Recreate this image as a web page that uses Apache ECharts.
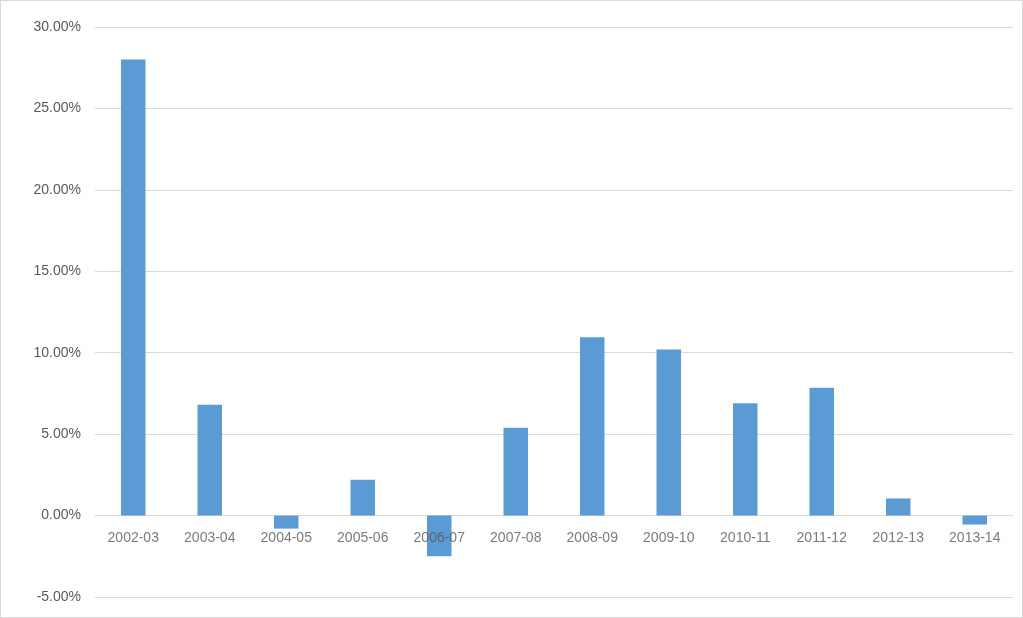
<!DOCTYPE html>
<html>
<head>
<meta charset="UTF-8">
<script src="https://cdn.jsdelivr.net/npm/echarts@6/dist/echarts.min.js"></script>
<style>html,body{margin:0;padding:0;background:#fff}</style>
</head>
<body>
<div id="main" style="width:1023px;height:618px;box-sizing:border-box;border:1px solid #d9d9d9"></div>
<script>
var categories = ['2002-03','2003-04','2004-05','2005-06','2006-07','2007-08','2008-09','2009-10','2010-11','2011-12','2012-13','2013-14'];
var growth = [28.0, 6.8, -0.8, 2.2, -2.5, 5.4, 10.95, 10.2, 6.9, 7.85, 1.05, -0.55];

var chart = echarts.init(document.getElementById('main'));
chart.setOption({
    animation: false,
    grid: {left: 94, right: 9, top: 26, bottom: 20},
    xAxis: {
        type: 'category',
        data: categories,
        axisLine: {onZero: true, lineStyle: {color: '#d9d9d9'}},
        axisTick: {show: false},
        axisLabel: {show: false}
    },
    yAxis: {
        type: 'value',
        min: -5, max: 30, interval: 5,
        axisLine: {show: false},
        axisTick: {show: false},
        splitLine: {lineStyle: {color: '#d9d9d9'}},
        axisLabel: {color: '#595959', fontSize: 14, fontFamily: 'Liberation Sans', margin: 14,
            formatter: function (v) { return v.toFixed(2) + '%'; }}
    },
    series: [{
        type: 'bar',
        data: growth,
        barWidth: '32%',
        itemStyle: {color: '#5b9bd5'}
    }, {
        // category labels drawn along the zero line
        type: 'scatter',
        symbolSize: 0,
        silent: true,
        z: 5,
        data: categories.map(function (c) { return [c, 0]; }),
        label: {show: true, position: 'bottom', distance: 16,
            formatter: function (p) { return p.value[0]; },
            color: '#595959', fontSize: 14, fontFamily: 'Liberation Sans'}
    }]
});
</script>
</body>
</html>
